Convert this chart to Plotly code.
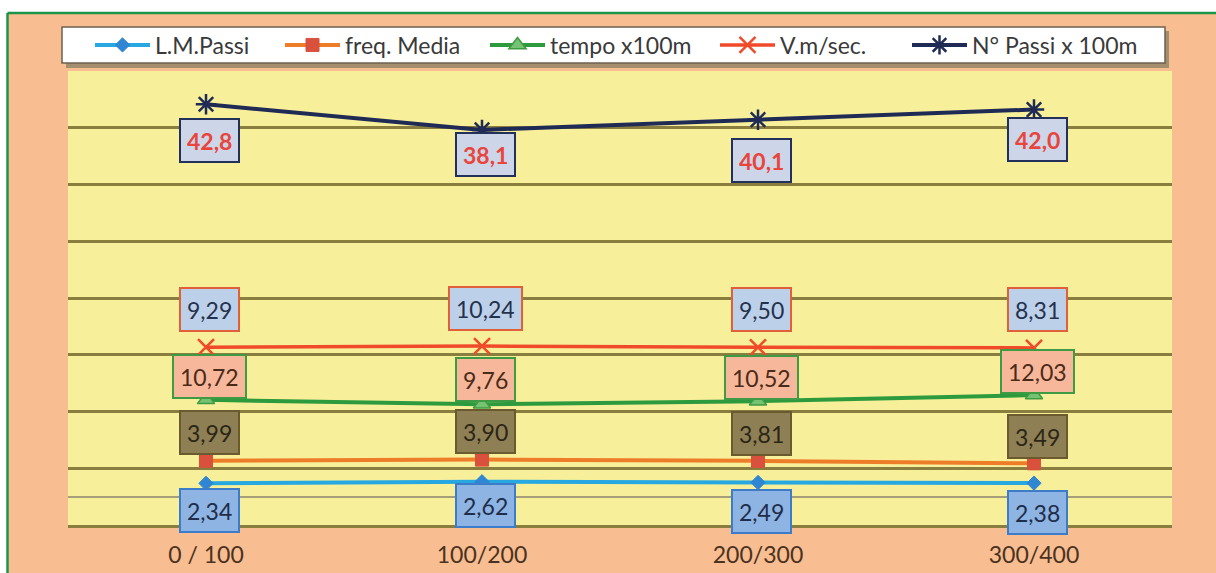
import numpy as np
import plotly.graph_objects as go

# Tratti di gara
categories = ["0 / 100", "100/200", "200/300", "300/400"]

# Serie (valori per tratto)
lm_passi = [2.34, 2.62, 2.49, 2.38]        # L.M.Passi
freq_media = [3.99, 3.90, 3.81, 3.49]      # freq. Media
tempo_100 = [10.72, 9.76, 10.52, 12.03]    # tempo x100m
velocita = [9.29, 10.24, 9.50, 8.31]       # V.m/sec.
n_passi = [42.8, 38.1, 40.1, 42.0]         # N° Passi x 100m

series_names = ["L.M.Passi", "freq. Media", "tempo x100m", "V.m/sec.", "N° Passi x 100m"]
series_values = [lm_passi, freq_media, tempo_100, velocita, n_passi]
label_decimals = [2, 2, 2, 2, 1]

W, H = 1216, 573
FONT = "Lato, Carlito, Calibri, 'Open Sans', sans-serif"

PEACH = "#F8BD90"
YELLOW = "#F7EF99"
GRID = "#8A7E3E"
GREEN_FRAME = "#1C9548"

styles = [
    dict(line="#27A8E0", lw=4, symbol="diamond", msize=11, mcolor="#2F86D2", mline="#2F86D2", mlw=1),
    dict(line="#EE7D2A", lw=4, symbol="square", msize=13, mcolor="#D9503C", mline="#D9503C", mlw=1),
    dict(line="#2E9A3E", lw=4, symbol="triangle-up", msize=15, mcolor="#74C272", mline="#3E9B43", mlw=1.5),
    dict(line="#F04A2A", lw=3.5, symbol="x-thin-open", msize=16, mcolor="#F04A2A", mline="#F04A2A", mlw=2.5),
    dict(line="#1F2B55", lw=4, symbol="asterisk-open", msize=17, mcolor="#1F2B55", mline="#1F2B55", mlw=2.5),
]

# Riquadri delle etichette dati: sfondo, bordo, testo, spostamento verticale (px)
label_styles = [
    dict(bg="#8DB4E2", border="#3D7CC9", color="#1F2D4A", bold=False, shift=[-27, -24, -29, -29]),
    dict(bg="#8E7F55", border="#6B5A2E", color="#2B2616", bold=False, shift=[28, 28, 27, 27]),
    dict(bg="#F6B79B", border="#3E9B43", color="#4A2A18", bold=False, shift=[23, 25, 24, 24]),
    dict(bg="#BDD0EA", border="#E0603C", color="#24324D", bold=False, shift=[38, 38, 38, 38]),
    dict(bg="#CCD6E8", border="#23315A", color="#E8453C", bold=True, shift=[-36, -25, -41, -30]),
]

# Punto di partenza (px) di ciascuna voce della legenda
legend_left_px = [90, 280, 485, 715, 907]
legend_ids = ["legend", "legend2", "legend3", "legend4", "legend5"]

fig = go.Figure()

for name, vals, st, lid in zip(series_names, series_values, styles, legend_ids):
    fig.add_trace(go.Scatter(
        x=categories, y=vals, name=name, legend=lid,
        stackgroup="stack", fill="none", mode="lines+markers",
        line=dict(color=st["line"], width=st["lw"]),
        marker=dict(symbol=st["symbol"], size=st["msize"], color=st["mcolor"],
                    line=dict(color=st["mline"], width=st["mlw"])),
        hoverinfo="skip",
    ))

# Posizione cumulata di ogni serie (linee sovrapposte)
cumulative = np.cumsum(np.array(series_values), axis=0)

annotations = []
for i, (vals, dec, ls) in enumerate(zip(series_values, label_decimals, label_styles)):
    for j, cat in enumerate(categories):
        txt = f"{vals[j]:.{dec}f}".replace(".", ",")
        if ls["bold"]:
            txt = f"<b>{txt}</b>"
        annotations.append(dict(
            x=cat, y=float(cumulative[i, j]), xref="x", yref="y",
            text=txt, showarrow=False, xshift=3, yshift=ls["shift"][j],
            font=dict(family=FONT, size=23, color=ls["color"]),
            bgcolor=ls["bg"], bordercolor=ls["border"], borderwidth=2, borderpad=6,
            height=29,
        ))

shapes = [
    # striscia bianca in alto e a sinistra
    dict(type="rect", xref="paper", yref="paper", x0=0, x1=1, y0=(H - 13) / H, y1=1,
         fillcolor="white", line=dict(width=0), layer="below"),
    dict(type="rect", xref="paper", yref="paper", x0=0, x1=7 / W, y0=0, y1=1,
         fillcolor="white", line=dict(width=0), layer="below"),
    # cornice verde
    dict(type="line", xref="paper", yref="paper", x0=7.5 / W, x1=1, y0=(H - 13) / H, y1=(H - 13) / H,
         line=dict(color=GREEN_FRAME, width=2.5)),
    dict(type="line", xref="paper", yref="paper", x0=7.5 / W, x1=7.5 / W, y0=0, y1=(H - 13) / H,
         line=dict(color=GREEN_FRAME, width=2.5)),
    # riquadro della legenda con ombra
    dict(type="rect", xref="paper", yref="paper", x0=66 / W, x1=1169 / W,
         y0=(H - 68) / H, y1=(H - 31) / H, fillcolor="#A38F6E", line=dict(width=0), layer="below"),
    dict(type="rect", xref="paper", yref="paper", x0=62 / W, x1=1165 / W,
         y0=(H - 63) / H, y1=(H - 27) / H, fillcolor="white",
         line=dict(color="#6E6250", width=1.5), layer="below"),
]

legend_common = dict(
    orientation="h", xanchor="left", y=(H - 45) / H, yanchor="middle",
    bgcolor="rgba(0,0,0,0)", borderwidth=0, itemwidth=55,
    font=dict(family=FONT, size=23, color="#3A3A3A"),
)
legend_layout = {
    lid: dict(legend_common, x=px / W) for lid, px in zip(legend_ids, legend_left_px)
}

fig.update_layout(
    width=W, height=H,
    margin=dict(l=0, r=0, t=0, b=0),
    paper_bgcolor=PEACH,
    plot_bgcolor=YELLOW,
    font=dict(family=FONT),
    showlegend=True,
    xaxis=dict(
        domain=[68 / W, 1172 / W], type="category", range=[-0.5, 3.5],
        showgrid=False, zeroline=False, showline=True, linecolor=GRID, linewidth=2.5,
        ticks="", ticklabelstandoff=8,
        tickfont=dict(family=FONT, size=23, color="#4A3222"),
    ),
    yaxis=dict(
        domain=[(H - 525) / H, (H - 71) / H], range=[-5, 75],
        tick0=-5, dtick=10, showticklabels=False, ticks="",
        showgrid=True, gridcolor=GRID, gridwidth=2.5,
        zeroline=True, zerolinecolor="#A69E78", zerolinewidth=1.5,
    ),
    shapes=shapes,
    annotations=annotations,
    **legend_layout,
)

fig.write_html("out.html")
